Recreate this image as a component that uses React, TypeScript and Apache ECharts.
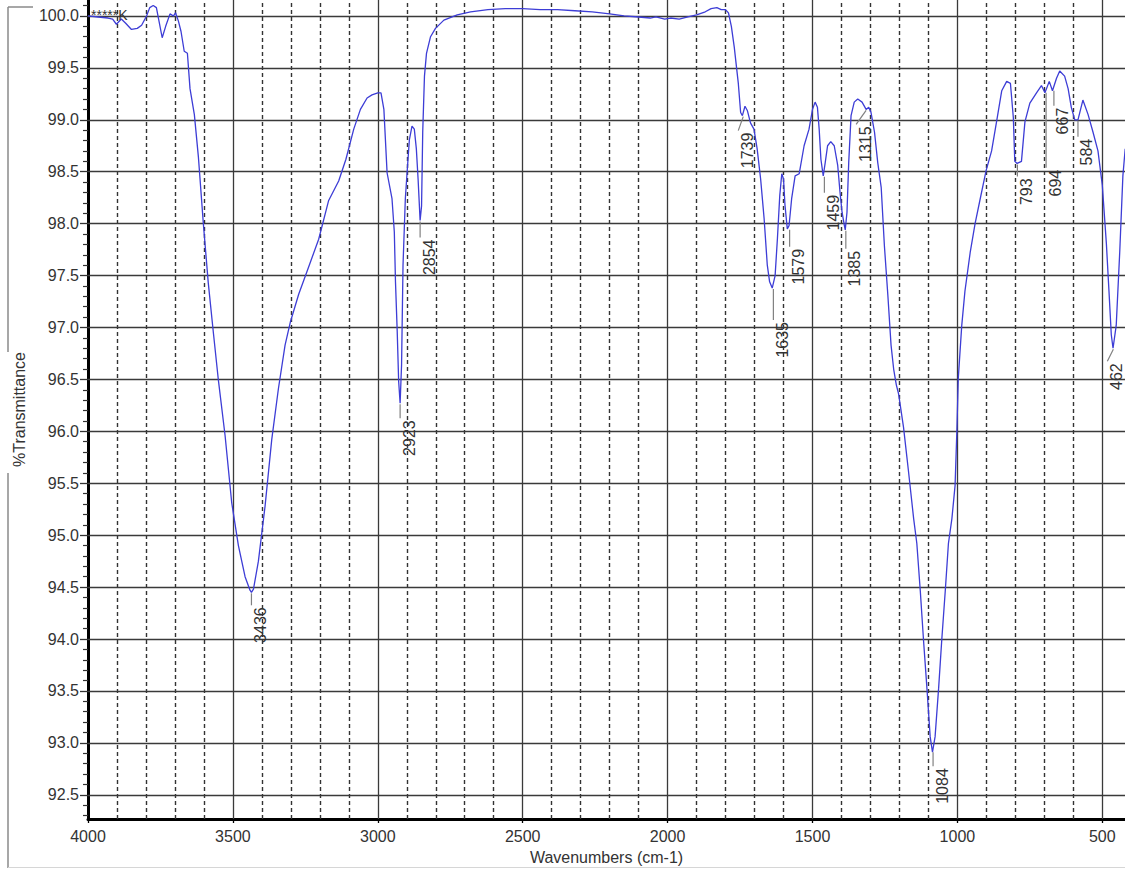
import React, { useEffect, useRef } from "react";
import * as echarts from "echarts";

// ---- Spectrum (wavenumber cm-1, %Transmittance) ----
const spectrum: [number, number][] = [
  [4000, 100.0], [3965, 99.99], [3931, 99.98], [3915, 99.97], [3902, 99.92], [3885, 99.97],
  [3870, 99.93], [3850, 99.87], [3830, 99.88], [3815, 99.91], [3798, 100.0], [3787, 100.08],
  [3775, 100.1], [3764, 100.08], [3755, 99.95], [3744, 99.79], [3732, 99.9], [3717, 100.02],
  [3705, 100.0], [3698, 100.03], [3688, 99.95], [3679, 99.85], [3668, 99.66], [3657, 99.64],
  [3648, 99.3], [3633, 99.05], [3619, 98.64], [3602, 98.0], [3585, 97.43], [3567, 96.94],
  [3550, 96.49], [3527, 95.96], [3504, 95.31], [3481, 94.9], [3458, 94.6], [3441, 94.47],
  [3436, 94.45], [3429, 94.48], [3412, 94.75], [3389, 95.28], [3366, 95.92], [3343, 96.41],
  [3320, 96.83], [3302, 97.05], [3273, 97.32], [3239, 97.58], [3204, 97.85], [3170, 98.22],
  [3135, 98.41], [3110, 98.62], [3083, 98.91], [3060, 99.1], [3037, 99.21], [3020, 99.24],
  [3000, 99.26], [2989, 99.26], [2979, 99.1], [2968, 98.49], [2951, 98.24], [2943, 97.92],
  [2939, 97.44], [2933, 96.96], [2928, 96.48], [2923, 96.27], [2918, 96.64], [2913, 97.6],
  [2905, 98.24], [2899, 98.49], [2891, 98.81], [2882, 98.94], [2874, 98.91], [2867, 98.72],
  [2861, 98.43], [2854, 98.03], [2849, 98.17], [2845, 98.88], [2839, 99.42], [2832, 99.64],
  [2818, 99.8], [2801, 99.88], [2772, 99.96], [2726, 100.01], [2680, 100.04], [2620, 100.06],
  [2560, 100.07], [2500, 100.07], [2440, 100.06], [2380, 100.06], [2320, 100.05], [2260, 100.04],
  [2200, 100.02], [2150, 100.0], [2100, 99.99], [2060, 99.98], [2040, 99.99], [2010, 99.97],
  [1990, 99.98], [1960, 99.97], [1930, 99.99], [1900, 100.01], [1870, 100.04], [1850, 100.07],
  [1830, 100.08], [1815, 100.06], [1800, 100.06], [1790, 100.03], [1780, 99.9], [1770, 99.7],
  [1762, 99.5], [1756, 99.35], [1748, 99.07], [1742, 99.04], [1733, 99.13], [1725, 99.09],
  [1714, 98.97], [1702, 98.91], [1691, 98.72], [1679, 98.43], [1667, 98.05], [1656, 97.6],
  [1648, 97.44], [1639, 97.38], [1629, 97.5], [1621, 97.86], [1613, 98.27], [1606, 98.48],
  [1600, 98.43], [1595, 98.18], [1587, 97.95], [1581, 97.98], [1572, 98.24], [1560, 98.46],
  [1546, 98.48], [1529, 98.75], [1512, 98.91], [1500, 99.1], [1491, 99.17], [1483, 99.12],
  [1477, 98.91], [1471, 98.62], [1463, 98.46], [1456, 98.59], [1448, 98.75], [1437, 98.79],
  [1425, 98.75], [1413, 98.56], [1405, 98.3], [1398, 98.11], [1390, 97.98], [1387, 97.94],
  [1381, 98.11], [1375, 98.59], [1367, 99.04], [1356, 99.17], [1344, 99.2], [1329, 99.17],
  [1315, 99.1], [1306, 99.12], [1298, 99.07], [1286, 98.88], [1275, 98.59], [1263, 98.35],
  [1252, 97.79], [1240, 97.31], [1229, 96.83], [1220, 96.6], [1211, 96.45], [1203, 96.36],
  [1186, 96.04], [1169, 95.62], [1151, 95.16], [1140, 94.92], [1128, 94.46], [1117, 93.99],
  [1105, 93.52], [1094, 93.06], [1086, 92.91], [1077, 93.06], [1065, 93.52], [1054, 93.99],
  [1042, 94.46], [1031, 94.92], [1019, 95.16], [1008, 95.48], [1002, 95.99], [997, 96.51],
  [985, 97.02], [974, 97.35], [956, 97.72], [939, 98.0], [922, 98.23], [901, 98.51],
  [882, 98.7], [865, 98.98], [847, 99.28], [830, 99.37], [817, 99.35], [807, 99.02],
  [802, 98.6], [794, 98.58], [779, 98.6], [767, 98.98], [750, 99.16], [727, 99.26],
  [710, 99.33], [698, 99.26], [683, 99.37], [672, 99.28], [658, 99.4], [647, 99.47],
  [630, 99.42], [618, 99.3], [607, 99.12], [595, 99.0], [584, 99.0], [567, 99.19],
  [549, 99.05], [532, 98.88], [515, 98.7], [500, 98.37], [486, 97.81], [477, 97.35],
  [469, 96.93], [463, 96.8], [452, 97.02], [440, 97.72], [429, 98.46], [421, 98.72],
];

// ---- Peak annotations ----
const peakWavenumbers = [3436, 2923, 2854, 1739, 1635, 1579, 1459, 1385, 1315, 1084, 793, 694, 667, 584, 462];
const peakTransmittance = [94.45, 96.27, 98.03, 99.04, 97.38, 97.95, 98.46, 97.94, 99.1, 92.92, 98.58, 99.27, 99.29, 99.0, 96.8];
// leader length (px) and horizontal shift of the label end (px)
const peakLeaderLength = [13, 15, 17, 15, 32, 18, 17, 19, 15, 15, 13, 76, 16, 17, 13];
const peakLabelShift = [0, 0, 0, -5, 0, 0, 0, 0, -10, 0, 0, 0, 0, 0, -6];

// ---- Axes ----
const xTickLabels = [4000, 3500, 3000, 2500, 2000, 1500, 1000, 500];
const yTickLabels = [92.5, 93.0, 93.5, 94.0, 94.5, 95.0, 95.5, 96.0, 96.5, 97.0, 97.5, 98.0, 98.5, 99.0, 99.5, 100.0];
const X_MIN = 421.7;
const X_MAX = 4000;
const Y_MIN = 92.267;
const Y_MAX = 100.1535;

const FONT = '"Liberation Sans", Arial, Helvetica, sans-serif';
const TEXT = "#333";

export default function App() {
  const ref = useRef<HTMLDivElement>(null);

  useEffect(() => {
    if (!ref.current) return;
    const chart = echarts.init(ref.current, undefined, { renderer: "svg" });

    const yMinor: number[] = [];
    for (let k = Math.ceil(Y_MIN * 10); k <= Math.floor(Y_MAX * 10); k++) {
      if (k % 5 !== 0) yMinor.push(k / 10);
    }
    const xMinorGrid: number[] = [];
    for (let v = 3900; v >= 500; v -= 100) {
      if (v % 500 !== 0) xMinorGrid.push(v);
    }
    const xMajorGrid = xTickLabels.filter((v) => v !== 4000);

    const gridLines: any[] = [];
    xMinorGrid.forEach((v) =>
      gridLines.push({ xAxis: v, lineStyle: { color: "#333", width: 1.4, type: [4, 3] } })
    );
    xMajorGrid.forEach((v) =>
      gridLines.push({ xAxis: v, lineStyle: { color: "#3a3a3a", width: 1.3, type: "solid" } })
    );
    yTickLabels.forEach((v) =>
      gridLines.push({ yAxis: v, lineStyle: { color: "#3a3a3a", width: 1.3, type: "solid" } })
    );

    const option: any = {
      animation: false,
      backgroundColor: "#fff",
      grid: { left: 88, top: 0, right: 0, height: 822 },
      xAxis: {
        type: "value",
        inverse: true,
        min: X_MIN,
        max: X_MAX,
        axisLine: { show: true, lineStyle: { color: "#000", width: 3 } },
        axisTick: { show: true, customValues: xTickLabels, length: 4, lineStyle: { color: "#000", width: 1.3 } },
        axisLabel: {
          customValues: xTickLabels,
          margin: 9,
          fontSize: 16,
          color: TEXT,
          fontFamily: FONT,
          formatter: (v: number) => String(v),
        },
        splitLine: { show: false },
        name: "Wavenumbers (cm-1)",
        nameLocation: "middle",
        nameGap: 30,
        nameTextStyle: { fontSize: 16, color: TEXT, fontFamily: FONT },
      },
      yAxis: [
        {
          type: "value",
          min: Y_MIN,
          max: Y_MAX,
          position: "left",
          axisLine: { show: true, lineStyle: { color: "#000", width: 3 } },
          axisTick: { show: true, customValues: yTickLabels, length: 8, lineStyle: { color: "#333", width: 1.3 } },
          axisLabel: {
            customValues: yTickLabels,
            margin: 9,
            fontSize: 16,
            color: TEXT,
            fontFamily: FONT,
            formatter: (v: number) => v.toFixed(1),
          },
          splitLine: { show: false },
          name: "%Transmittance",
          nameLocation: "middle",
          nameGap: 61,
          nameRotate: 90,
          nameTextStyle: { fontSize: 16, color: TEXT, fontFamily: FONT },
        },
        {
          type: "value",
          min: Y_MIN,
          max: Y_MAX,
          position: "left",
          axisLine: { show: false },
          axisTick: { show: true, customValues: yMinor, length: 5, lineStyle: { color: "#333", width: 1.2 } },
          axisLabel: { show: false },
          splitLine: { show: false },
        },
      ],
      series: [
        {
          type: "line",
          name: "spectrum",
          data: spectrum,
          showSymbol: false,
          symbol: "none",
          smooth: false,
          z: 3,
          lineStyle: { color: "#3d3dd6", width: 1.3 },
          markLine: {
            z: 1,
            silent: true,
            animation: false,
            symbol: ["none", "none"],
            label: { show: false },
            emphasis: { disabled: true },
            data: gridLines,
          },
        },
        {
          type: "custom",
          name: "peaks",
          z: 4,
          clip: false,
          data: peakWavenumbers.map((w, i) => [w, peakTransmittance[i], i]),
          renderItem: (params: any, api: any) => {
            const i = api.value(2);
            const p = api.coord([api.value(0), api.value(1)]);
            const len = peakLeaderLength[i];
            const sh = peakLabelShift[i];
            const x2 = p[0] + sh;
            const y2 = p[1] + len;
            return {
              type: "group",
              children: [
                {
                  type: "line",
                  shape: { x1: p[0], y1: p[1] + 1, x2: x2, y2: y2 },
                  style: { stroke: "#808080", lineWidth: 1.2 },
                },
                {
                  type: "text",
                  x: x2 + 1,
                  y: y2 + 2,
                  rotation: Math.PI / 2,
                  style: {
                    text: String(peakWavenumbers[i]),
                    align: "right",
                    verticalAlign: "top",
                    fill: TEXT,
                    font: `16px ${FONT}`,
                  },
                },
              ],
            };
          },
        },
      ],
      graphic: [
        { type: "line", shape: { x1: 8, y1: 7, x2: 33, y2: 7 }, style: { stroke: "#8a8a8a", lineWidth: 1.5 } },
        { type: "line", shape: { x1: 8, y1: 7, x2: 8, y2: 352 }, style: { stroke: "#8a8a8a", lineWidth: 1.5 } },
        { type: "line", shape: { x1: 8, y1: 473, x2: 8, y2: 868 }, style: { stroke: "#8a8a8a", lineWidth: 1.5 } },
        { type: "line", shape: { x1: 8, y1: 867.5, x2: 1125, y2: 867.5 }, style: { stroke: "#d6d6d6", lineWidth: 1 } },
        {
          type: "text",
          x: 91,
          y: 15,
          z: 10,
          style: { text: "*****K", fill: TEXT, font: `14px ${FONT}`, verticalAlign: "middle", align: "left" },
        },
      ],
    };

    chart.setOption(option);
    return () => chart.dispose();
  }, []);

  return (
    <div
      ref={ref}
      style={{ position: "absolute", left: 0, top: 0, width: 1125, height: 870, background: "#fff", overflow: "hidden" }}
    />
  );
}
